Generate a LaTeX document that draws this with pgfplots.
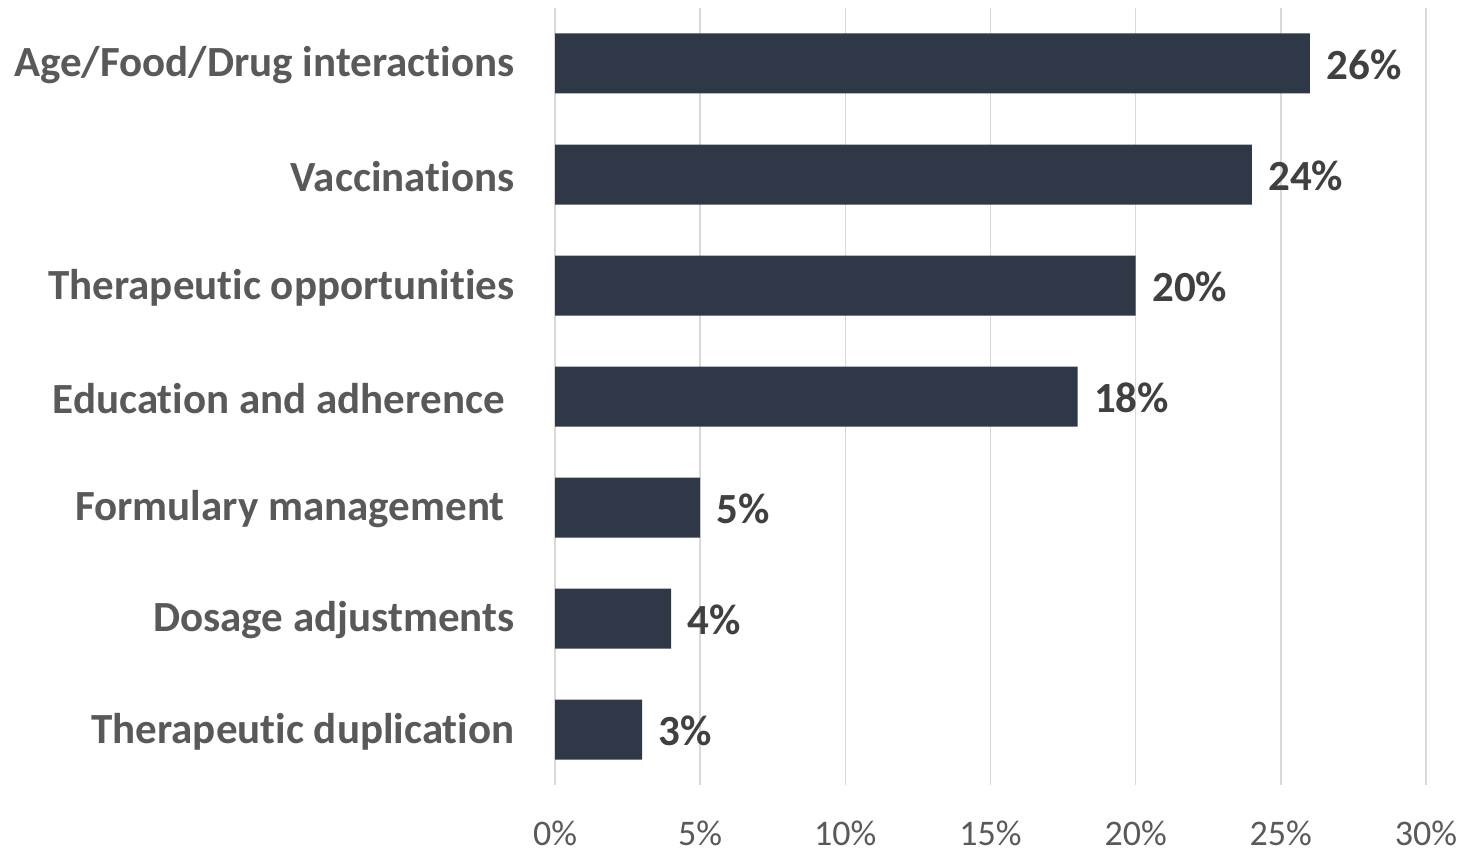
\documentclass[border=0pt]{standalone}
\usepackage{fontspec}
\setmainfont{Carlito}[Ligatures={NoCommon,NoContextual}]
\usepackage{pgfplots}
\pgfplotsset{compat=1.18}
\definecolor{barc}{HTML}{2E3846}
\definecolor{catc}{HTML}{595959}
\definecolor{valc}{HTML}{404040}
\definecolor{gridc}{HTML}{D9D9D9}
\begin{document}
\begin{tikzpicture}[x=1bp,y=1bp]
\path[use as bounding box] (0,0) rectangle (1463,852);
\begin{axis}[
  at={(555bp,67bp)}, anchor=south west,
  scale only axis, width=871bp, height=777bp,
  xbar, bar width=60bp,
  xmin=0, xmax=30, ymin=-0.5, ymax=6.5,
  y dir=reverse,
  xtick={0,5,10,15,20,25,30},
  xticklabel={\pgfmathprintnumber{\tick}\%},
  /pgf/number format/assume math mode=true,
  xticklabel style={font=\fontsize{36bp}{40bp}\selectfont, text=catc, yshift=-32bp},
  ytick={0,1,2,3,4,5,6},
  yticklabels={Age/Food/Drug interactions, Vaccinations, Therapeutic opportunities, Education and adherence\kern0.23em, Formulary management\kern0.23em, Dosage adjustments, Therapeutic duplication},
  yticklabel style={font=\fontsize{43bp}{47bp}\selectfont\bfseries, text=catc, xshift=-37bp, yshift=-2bp},
  major tick length=0pt,
  axis line style={draw=none},
  xmajorgrids, grid style={gridc, line width=1.6bp},
  nodes near coords={\pgfmathprintnumber{\pgfplotspointmeta}\%},
  nodes near coords style={font=\fontsize{43bp}{47bp}\selectfont\bfseries, text=valc, anchor=west, xshift=13bp, yshift=-1bp},
]
\addplot[fill=barc, draw=none] coordinates {
(26,0) (24,1) (20,2) (18,3) (5,4) (4,5) (3,6)
};
\end{axis}
\end{tikzpicture}
\end{document}
